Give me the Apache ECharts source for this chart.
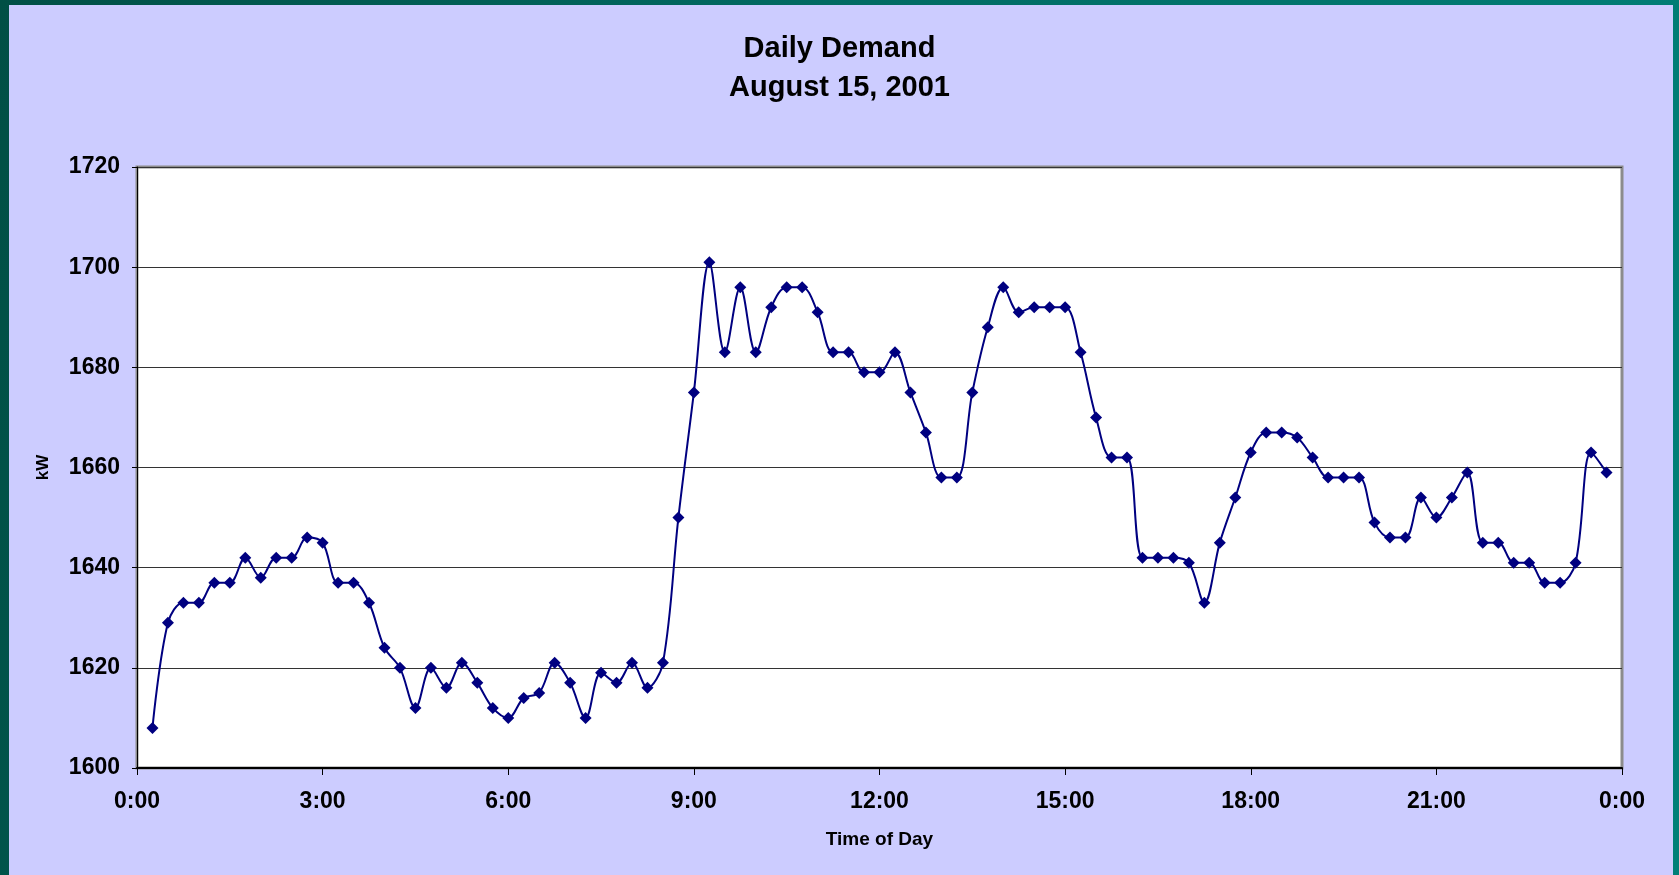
<!DOCTYPE html>
<html>
<head>
<meta charset="utf-8">
<title>Daily Demand</title>
<script src="https://cdn.jsdelivr.net/npm/echarts@6/dist/echarts.min.js"></script>
<style>
  html, body {
    margin: 0;
    padding: 0;
    width: 1679px;
    height: 875px;
    overflow: hidden;
    background: linear-gradient(100deg, #004f45 0%, #006a62 45%, #008078 100%);
  }
  #panel {
    position: absolute;
    left: 9px;
    top: 5px;
    width: 1664px;
    height: 870px;
    background: #ccccff;
  }
  #chart {
    position: absolute;
    left: 0;
    top: 0;
    width: 1679px;
    height: 875px;
  }
</style>
</head>
<body>
<div id="panel"></div>
<div id="chart"></div>
<script>
// readings every 15 minutes, first one at 0:15
const startMinute = 15
const stepMinute = 15
const demand = [
  1608, 1629, 1633, 1633, 1637, 1637, 1642, 1638, 1642, 1642, 1646, 1645,
  1637, 1637, 1633, 1624, 1620, 1612, 1620, 1616, 1621, 1617, 1612, 1610,
  1614, 1615, 1621, 1617, 1610, 1619, 1617, 1621, 1616, 1621, 1650, 1675,
  1701, 1683, 1696, 1683, 1692, 1696, 1696, 1691, 1683, 1683, 1679, 1679,
  1683, 1675, 1667, 1658, 1658, 1675, 1688, 1696, 1691, 1692, 1692, 1692,
  1683, 1670, 1662, 1662, 1642, 1642, 1642, 1641, 1633, 1645, 1654, 1663,
  1667, 1667, 1666, 1662, 1658, 1658, 1658, 1649, 1646, 1646, 1654, 1650,
  1654, 1659, 1645, 1645, 1641, 1641, 1637, 1637, 1641, 1663, 1659
]
const xTickLabels = ['0:00', '3:00', '6:00', '9:00', '12:00', '15:00', '18:00', '21:00', '0:00']
const yTicks = [1600, 1620, 1640, 1660, 1680, 1700, 1720]

const chart = echarts.init(document.getElementById('chart'))
const points = demand.map((v, i) => [startMinute + i * stepMinute, v])
const font = 'Liberation Sans, Arial, sans-serif'

const option = {
  backgroundColor: 'transparent',
  animation: false,
  title: {
    text: 'Daily Demand\nAugust 15, 2001',
    left: 'center',
    top: 24,
    textStyle: {
      fontFamily: font,
      fontSize: 29,
      fontWeight: 'bold',
      color: '#000',
      lineHeight: 39
    }
  },
  grid: {
    left: 137,
    right: 57,
    top: 167,
    bottom: 107,
    show: true,
    backgroundColor: '#fff',
    borderColor: '#8c8c8c',
    borderWidth: 3
  },
  xAxis: {
    type: 'value',
    min: 0,
    max: 1440,
    interval: 180,
    name: 'Time of Day',
    nameLocation: 'middle',
    nameGap: 62,
    nameTextStyle: { fontFamily: font, fontSize: 19, fontWeight: 'bold', color: '#000' },
    axisLine: { show: true, lineStyle: { color: '#000', width: 2 } },
    axisTick: { show: true, length: 7, lineStyle: { color: '#000' } },
    splitLine: { show: false },
    axisLabel: {
      margin: 22,
      fontFamily: font,
      fontSize: 23,
      fontWeight: 'bold',
      color: '#000',
      formatter: (v) => xTickLabels[Math.round(v / 180)]
    }
  },
  yAxis: {
    type: 'value',
    min: yTicks[0],
    max: yTicks[yTicks.length - 1],
    interval: 20,
    name: 'kW',
    nameLocation: 'middle',
    nameGap: 85,
    nameRotate: 90,
    nameTextStyle: { fontFamily: font, fontSize: 17, fontWeight: 'bold', color: '#000' },
    axisLine: { show: true, lineStyle: { color: '#000', width: 1 } },
    axisTick: { show: true, length: 5, lineStyle: { color: '#000' } },
    splitLine: { show: true, lineStyle: { color: '#333', width: 1.2 } },
    axisLabel: {
      margin: 17,
      fontFamily: font,
      fontSize: 23,
      fontWeight: 'bold',
      color: '#000',
      formatter: (v) => String(v)
    }
  },
  series: [
    {
      name: 'kW',
      type: 'line',
      data: points,
      smooth: 0.35,
      symbol: 'diamond',
      symbolSize: 12,
      showAllSymbol: true,
      lineStyle: { color: '#000080', width: 2 },
      itemStyle: { color: '#000080' }
    }
  ]
}
chart.setOption(option)
</script>
</body>
</html>
